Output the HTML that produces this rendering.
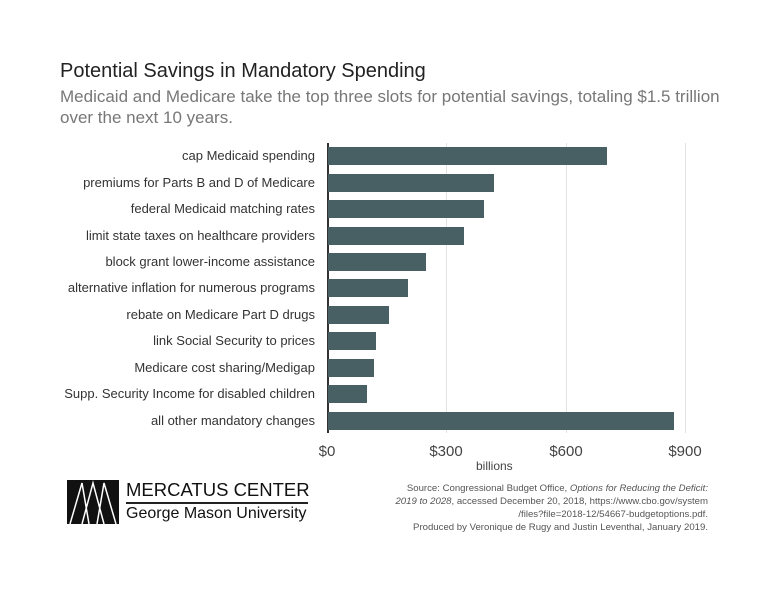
<!DOCTYPE html>
<html><head><style>
body{margin:0;background:#fff;}
.w{position:relative;width:768px;height:593px;font-family:"Liberation Sans",sans-serif;overflow:hidden;}
.t{position:absolute;left:60px;top:60px;font-size:20px;color:#222;}
.s{position:absolute;left:60px;top:86px;font-size:17px;color:#777;line-height:21px;white-space:nowrap;}
.lbl{position:absolute;right:453px;font-size:13px;color:#333;white-space:nowrap;}
.bar{position:absolute;left:328px;height:18px;background:#485f64;}
.g{position:absolute;top:143px;height:290px;width:1px;background:#e3e3e3;}
.tk{position:absolute;top:443px;font-size:15px;color:#444;transform:translateX(-50%);}
.src{position:absolute;right:60px;top:482px;font-size:9.6px;color:#555;text-align:right;line-height:13px;}
</style></head><body><div class="w">
<div class="t">Potential Savings in Mandatory Spending</div>
<div class="s">Medicaid and Medicare take the top three slots for potential savings, totaling $1.5 trillion<br>over the next 10 years.</div>
<div class="g" style="left:446px"></div><div class="g" style="left:566px"></div><div class="g" style="left:685px"></div>
<div style="position:absolute;left:327px;top:143px;width:1.5px;height:290px;background:#333"></div>
<div class="bar" style="top:147px;width:279px"></div>
<div class="bar" style="top:174px;width:166px"></div>
<div class="bar" style="top:200px;width:156px"></div>
<div class="bar" style="top:227px;width:136px"></div>
<div class="bar" style="top:253px;width:98px"></div>
<div class="bar" style="top:279px;width:80px"></div>
<div class="bar" style="top:306px;width:61px"></div>
<div class="bar" style="top:332px;width:48px"></div>
<div class="bar" style="top:359px;width:46px"></div>
<div class="bar" style="top:385px;width:39px"></div>
<div class="bar" style="top:412px;width:346px"></div>
<div class="lbl" style="top:148px">cap Medicaid spending</div>
<div class="lbl" style="top:175px">premiums for Parts B and D of Medicare</div>
<div class="lbl" style="top:201px">federal Medicaid matching rates</div>
<div class="lbl" style="top:228px">limit state taxes on healthcare providers</div>
<div class="lbl" style="top:254px">block grant lower-income assistance</div>
<div class="lbl" style="top:280px">alternative inflation for numerous programs</div>
<div class="lbl" style="top:307px">rebate on Medicare Part D drugs</div>
<div class="lbl" style="top:333px">link Social Security to prices</div>
<div class="lbl" style="top:360px">Medicare cost sharing/Medigap</div>
<div class="lbl" style="top:386px">Supp. Security Income for disabled children</div>
<div class="lbl" style="top:413px">all other mandatory changes</div>
<div class="tk" style="left:327px">$0</div><div class="tk" style="left:446px">$300</div><div class="tk" style="left:566px">$600</div><div class="tk" style="left:685px">$900</div>
<div style="position:absolute;left:476px;top:459px;font-size:12px;color:#444">billions</div>
<svg style="position:absolute;left:67px;top:480px" width="52" height="44"><rect width="52" height="44" fill="#111"/><path d="M3 44L15 3L22 44M15 44L26 3L37 44M30 44L37 3L49 44" stroke="#fff" stroke-width="1.5" fill="none"/></svg>
<div style="position:absolute;left:126px;top:479px;font-size:18.5px;color:#111">MERCATUS CENTER</div>
<div style="position:absolute;left:126px;top:502px;width:182px;height:1.5px;background:#222"></div>
<div style="position:absolute;left:126px;top:505px;font-size:16px;color:#111">George Mason University</div>
<div class="src">Source: Congressional Budget Office, <i>Options for Reducing the Deficit:<br>2019 to 2028</i>, accessed December 20, 2018, https://www.cbo.gov/system<br>/files?file=2018-12/54667-budgetoptions.pdf.<br>Produced by Veronique de Rugy and Justin Leventhal, January 2019.</div>
</div></body></html>
